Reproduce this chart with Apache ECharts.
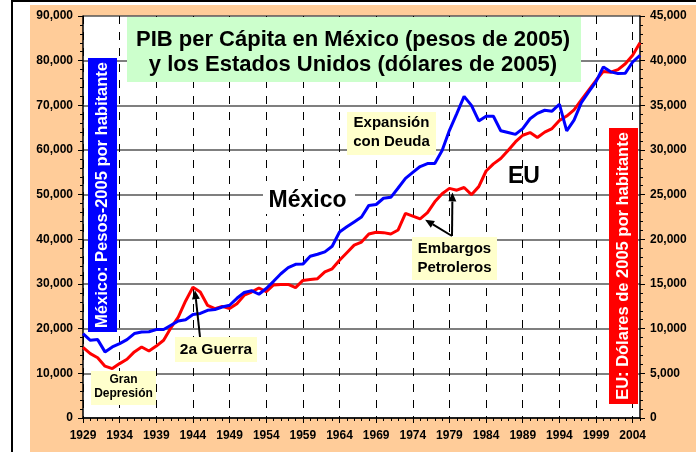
<!DOCTYPE html>
<html><head><meta charset="utf-8">
<script src="https://cdn.jsdelivr.net/npm/echarts@6/dist/echarts.min.js"></script>
<style>
html,body{margin:0;padding:0;background:#fff;}
#wrap{position:relative;width:696px;height:452px;overflow:hidden;background:#fff;}
#bgo{position:absolute;left:30px;top:5px;right:0;bottom:0;background:#FFCC99;}
#vl{position:absolute;left:11px;top:0;width:2px;height:452px;background:#000;}
#tl{position:absolute;left:11px;top:0;right:0;height:2px;background:#000;}
#c{position:absolute;left:0;top:0;width:696px;height:452px;}
</style></head>
<body><div id="wrap"><div id="bgo"></div><div id="vl"></div><div id="tl"></div><div id="c"></div></div>
<script>
const years = [1929,1930,1931,1932,1933,1934,1935,1936,1937,1938,1939,1940,1941,1942,1943,1944,1945,1946,1947,1948,1949,
1950,1951,1952,1953,1954,1955,1956,1957,1958,1959,1960,1961,1962,1963,1964,1965,1966,1967,1968,1969,
1970,1971,1972,1973,1974,1975,1976,1977,1978,1979,1980,1981,1982,1983,1984,1985,1986,1987,1988,1989,
1990,1991,1992,1993,1994,1995,1996,1997,1998,1999,2000,2001,2002,2003,2004,2005];
// México, pesos de 2005 por habitante (eje izquierdo)
const mexico = [18900,17400,17550,14800,15900,16650,17550,18900,19250,19300,19800,19800,20750,21700,22000,23150,23400,24100,24300,24850,25250,
26800,28100,28500,27700,29000,30600,32300,33650,34400,34450,36200,36650,37200,38450,41650,42800,43900,45000,47600,47800,
49200,49400,51500,53650,55000,56300,56950,57000,59900,64400,68150,72000,70000,66500,67550,67550,64300,63900,63500,64800,
67000,68200,68900,68700,70250,64300,66700,70600,73000,75300,78600,77500,77100,77200,79700,81200];
// Estados Unidos, dólares de 2005 por habitante (eje derecho)
const usa = [7900,7200,6750,5800,5530,6090,6570,7400,7950,7500,8050,8700,10100,11300,13100,14650,14100,12600,12250,12500,12250,
12800,13750,14100,14550,14150,14900,14950,14950,14600,15400,15500,15600,16350,16700,17650,18500,19350,19700,20600,20800,
20750,20600,21050,22900,22600,22300,23000,24200,25100,25700,25500,25800,25000,25900,27650,28450,29050,29950,30900,31650,
31950,31400,32000,32400,33300,33800,34500,35600,36700,37800,38800,38700,39000,39650,40600,42000];
const leftMax = 90000, leftStep = 10000;
const rightMax = 45000, rightStep = 5000;

const FONT = '"Liberation Sans", Arial, sans-serif';
const chart = echarts.init(document.getElementById('c'), null, {renderer:'canvas'});
const axisLbl = {color:'#000', fontWeight:'bold', fontSize:12, fontFamily:FONT};
chart.setOption({
  animation:false,
  backgroundColor:'transparent',
  grid:{left:83, right:56, top:16, bottom:34, show:true, backgroundColor:'#fff', borderWidth:0},
  xAxis:[
    {type:'category', data:years, boundaryGap:false, position:'bottom',
     axisLine:{lineStyle:{color:'#000', width:1.5}},
     axisTick:{interval:4, length:5, lineStyle:{color:'#000', width:1}},
     axisLabel:Object.assign({interval:4, margin:12}, axisLbl),
     splitLine:{show:true, interval:4, lineStyle:{color:'#000', width:1, type:[8,8]}}},
    {type:'category', data:years, boundaryGap:false, position:'bottom',
     axisLine:{show:false}, axisTick:{interval:0, length:3, lineStyle:{color:'#000', width:1}},
     axisLabel:{show:false}, splitLine:{show:false}}
  ],
  yAxis:[
    {type:'value', min:0, max:leftMax, interval:leftStep, position:'left',
     axisLine:{show:true, lineStyle:{color:'#000', width:1.5}},
     axisTick:{show:true, length:5, lineStyle:{color:'#000'}},
     minorTick:{show:true, splitNumber:5, length:3, lineStyle:{color:'#000'}},
     axisLabel:Object.assign({margin:10}, axisLbl),
     splitLine:{show:true, lineStyle:{color:'#555', width:1.5}}},
    {type:'value', min:0, max:rightMax, interval:rightStep, position:'right',
     axisLine:{show:true, lineStyle:{color:'#000', width:1.5}},
     axisTick:{show:true, length:5, lineStyle:{color:'#000'}},
     minorTick:{show:true, splitNumber:5, length:3, lineStyle:{color:'#000'}},
     axisLabel:Object.assign({margin:10}, axisLbl),
     splitLine:{show:false}}
  ],
  series:[
    {type:'line', name:'EU', data:usa, yAxisIndex:1, symbol:'none',
     lineStyle:{color:'#FF0000', width:3}, itemStyle:{color:'#FF0000'}, z:3},
    {type:'line', name:'México', data:mexico, yAxisIndex:0, symbol:'none',
     lineStyle:{color:'#0000FF', width:3}, itemStyle:{color:'#0000FF'}, z:4}
  ]
});

function rect(x,y,w,h,fill){return {type:'rect', shape:{x,y,width:w,height:h}, style:{fill}, z:100};}
function text(x,y,t,size,opts){
  opts = opts||{};
  return {type:'text', x, y, rotation:opts.rot||0, z:101,
    style:{text:t, fontSize:size, fontWeight:'bold', fontFamily:FONT, fill:opts.fill||'#000',
      align:'center', verticalAlign:'middle', lineHeight:opts.lh||size*1.2}};
}
function arrow(x1,y1,x2,y2){
  const a = Math.atan2(y2-y1, x2-x1), L = 9, W = 4;
  const bx = x2 - L*Math.cos(a), by = y2 - L*Math.sin(a);
  const px = -Math.sin(a)*W, py = Math.cos(a)*W;
  return [
    {type:'line', shape:{x1, y1, x2:bx, y2:by}, style:{stroke:'#000', lineWidth:2}, z:102},
    {type:'polygon', shape:{points:[[x2,y2],[bx+px,by+py],[bx-px,by-py]]}, style:{fill:'#000'}, z:102}
  ];
}
const idx = y => years.indexOf(y);
const pUS = y => chart.convertToPixel({xAxisIndex:0, yAxisIndex:1}, [idx(y), usa[idx(y)]]);

const war = pUS(1944), emb1 = pUS(1975), emb2 = pUS(1979);
const g = [];
// título
g.push(rect(127,17,454,65,'#CCFFCC'));
g.push(text(353,40,'PIB per Cápita en México (pesos de 2005)',22));
g.push(text(353,65,'y los Estados Unidos (dólares de 2005)',22));
// etiquetas de eje
g.push(rect(88,58,29,274,'#0000FF'));
g.push(text(102.5,195,'México: Pesos-2005 por habitante',16.5,{rot:Math.PI/2, fill:'#fff'}));
g.push(rect(609,128,29,276,'#FF0000'));
g.push(text(623.5,266,'EU: Dólares de 2005 por habitante',16.5,{rot:Math.PI/2, fill:'#fff'}));
// nombres de series
g.push(rect(263,181,92,33,'#fff'));
g.push(text(307.5,201,'México',23));
g.push(text(524,177,'EU',23));
// anotaciones
g.push(rect(347,112,89,43,'#FFFFCC'));
g.push(text(391.5,132.5,'Expansión\ncon Deuda',15,{lh:19}));
g.push(rect(412,237,85,43,'#FFFFCC'));
g.push(text(454.5,258,'Embargos\nPetroleros',15,{lh:19}));
g.push(rect(175,337,82,25,'#FFFFCC'));
g.push(text(216,349.5,'2a Guerra',15.5));
g.push(rect(91,371,65,34,'#FFFFCC'));
g.push(text(123.5,387,'Gran\nDepresión',12,{lh:14}));
g.push(...arrow(200,337, war[0]+2, war[1]+3));
g.push(...arrow(452,236, emb1[0]+5, emb1[1]+1));
g.push(...arrow(452,236, emb2[0]+3, emb2[1]+4));
chart.setOption({graphic:g});
</script>
</body></html>
